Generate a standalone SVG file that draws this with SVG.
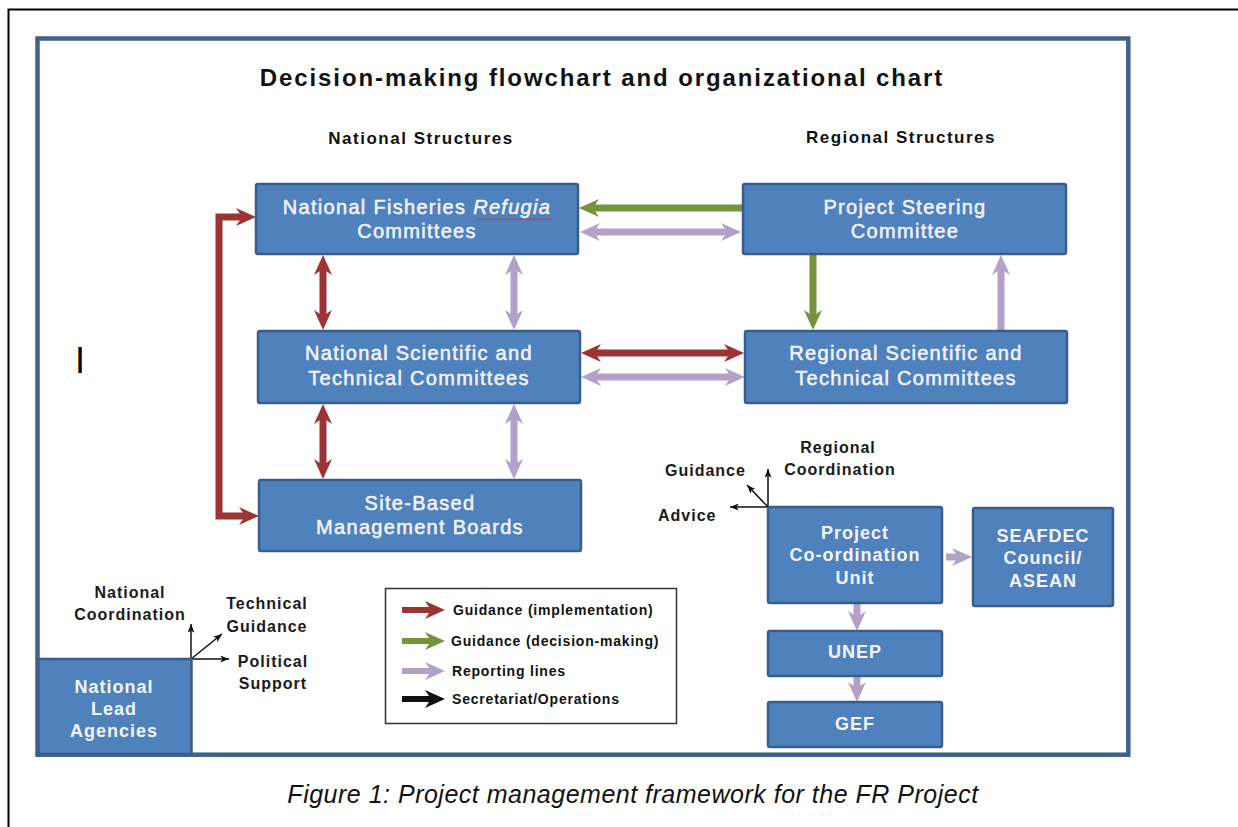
<svg xmlns="http://www.w3.org/2000/svg" width="1238" height="827" viewBox="0 0 1238 827">
<style>
.node rect{fill:#4f81bd;stroke:#385d8a;stroke-width:2.5}
.nt{font-family:"Liberation Sans",Arial,sans-serif;font-size:20px;fill:#f4f4ff;stroke:#f4f4ff;stroke-width:0.5px;text-anchor:middle;letter-spacing:1.3px}
.bt{font-family:"Liberation Sans",Arial,sans-serif;font-size:18px;font-weight:bold;fill:#f4f4ff;text-anchor:middle;letter-spacing:1px}
.hd{font-family:"Liberation Sans",Arial,sans-serif;font-weight:bold;fill:#111;text-anchor:middle}
.lb{font-family:"Liberation Sans",Arial,sans-serif;font-size:16px;font-weight:bold;fill:#1a1a1a;letter-spacing:1px}
.lg{font-family:"Liberation Sans",Arial,sans-serif;font-size:14px;font-weight:bold;fill:#111;letter-spacing:0.8px}
.red{stroke:#9b3535;stroke-width:7;fill:none}
.grn{stroke:#76923c;stroke-width:7;fill:none}
.lav{stroke:#b3a2c7;stroke-width:7;fill:none}
.blk{stroke:#111;stroke-width:6;fill:none}
.thin{stroke:#111;stroke-width:1.5;fill:none;marker-end:url(#ak)}
</style>
<defs>
<marker id="hr" viewBox="0 0 20 20" refX="6" refY="10" markerWidth="20" markerHeight="20" markerUnits="userSpaceOnUse" orient="auto-start-reverse"><path d="M0,1 L20,10 L0,19 L6,10 Z" fill="#9b3535"/></marker>
<marker id="hg" viewBox="0 0 20 20" refX="6" refY="10" markerWidth="20" markerHeight="20" markerUnits="userSpaceOnUse" orient="auto-start-reverse"><path d="M0,1 L20,10 L0,19 L6,10 Z" fill="#76923c"/></marker>
<marker id="hl" viewBox="0 0 20 20" refX="6" refY="10" markerWidth="20" markerHeight="20" markerUnits="userSpaceOnUse" orient="auto-start-reverse"><path d="M0,1 L20,10 L0,19 L6,10 Z" fill="#b3a2c7"/></marker>
<marker id="hk" viewBox="0 0 20 20" refX="6" refY="10" markerWidth="20" markerHeight="20" markerUnits="userSpaceOnUse" orient="auto-start-reverse"><path d="M0,1 L20,10 L0,19 L6,10 Z" fill="#111"/></marker>
<marker id="ak" viewBox="0 0 10 8" refX="10" refY="4" markerWidth="9" markerHeight="7" markerUnits="userSpaceOnUse" orient="auto"><path d="M0,0 L10,4 L0,8 L2.5,4 Z" fill="#111"/></marker>
</defs>
<rect width="1238" height="827" fill="#fff"/>
<path d="M8.5,827 V9.5 H1238" fill="none" stroke="#000" stroke-width="2"/>
<rect x="37.5" y="38.5" width="1090.8" height="716.2" fill="none" stroke="#41618c" stroke-width="4.5"/>
<text x="602" y="86" class="hd" font-size="24" letter-spacing="1.9">Decision-making flowchart and organizational chart</text>
<text x="421" y="144" class="hd" font-size="17" letter-spacing="1.5">National Structures</text>
<text x="901" y="143" class="hd" font-size="17" letter-spacing="1.5">Regional Structures</text>
<text x="75" y="373" font-family="Liberation Sans,Arial,sans-serif" font-size="36" fill="#000">I</text>

<g id="connectors">
<path class="grn" d="M743,208 H593" marker-end="url(#hg)"/>
<path class="lav" d="M594,232 H727" marker-start="url(#hl)" marker-end="url(#hl)"/>
<path class="red" d="M595,353 H730" marker-start="url(#hr)" marker-end="url(#hr)"/>
<path class="lav" d="M595,377 H731" marker-start="url(#hl)" marker-end="url(#hl)"/>
<path class="red" d="M323,269 V316" marker-start="url(#hr)" marker-end="url(#hr)"/>
<path class="lav" d="M514,269 V316" marker-start="url(#hl)" marker-end="url(#hl)"/>
<path class="red" d="M323,418 V465" marker-start="url(#hr)" marker-end="url(#hr)"/>
<path class="lav" d="M514,418 V465" marker-start="url(#hl)" marker-end="url(#hl)"/>
<path class="red" d="M242,217 H219 V516 H245" marker-start="url(#hr)" marker-end="url(#hr)"/>
<path class="grn" d="M813,255 V316" marker-end="url(#hg)"/>
<path class="lav" d="M1001,330 V269" marker-end="url(#hl)"/>
<path class="lav" d="M946,557 H958" marker-end="url(#hl)"/>
<path class="lav" d="M857,604 V617" marker-end="url(#hl)"/>
<path class="lav" d="M857,677 V688" marker-end="url(#hl)"/>
<path class="thin" d="M768,507 V469"/>
<path class="thin" d="M768,507 L747,485"/>
<path class="thin" d="M768,507 H730"/>
<path class="thin" d="M191,659 V624"/>
<path class="thin" d="M191,659 L222,634"/>
<path class="thin" d="M191,659 H229"/>
</g>

<g id="nfrc" class="node"><rect x="256" y="184" width="322" height="70" rx="2"/>
<text x="417" y="214" class="nt">National Fisheries <tspan font-style="italic">Refugia</tspan></text>
<text x="417" y="238" class="nt">Committees</text>
<path d="M477,220 l2,-1.5 l2,1.5 l2,-1.5 l2,1.5 l2,-1.5 l2,1.5 l2,-1.5 l2,1.5 l2,-1.5 l2,1.5 l2,-1.5 l2,1.5 l2,-1.5 l2,1.5 l2,-1.5 l2,1.5 l2,-1.5 l2,1.5 l2,-1.5 l2,1.5 l2,-1.5 l2,1.5 l2,-1.5 l2,1.5 l2,-1.5 l2,1.5 l2,-1.5 l2,1.5 l2,-1.5 l2,1.5 l2,-1.5 l2,1.5 l2,-1.5 l2,1.5 l2,-1.5 l2,1.5 l2,-1.5 l2,1.5" fill="none" stroke="#d63a3a" stroke-width="1"/>
</g>
<g id="psc" class="node"><rect x="743" y="184" width="323" height="70" rx="2"/>
<text x="905" y="214" class="nt">Project Steering</text>
<text x="905" y="238" class="nt">Committee</text></g>
<g id="nstc" class="node"><rect x="258" y="331" width="322" height="72" rx="2"/>
<text x="419" y="360" class="nt">National Scientific and</text>
<text x="419" y="385" class="nt">Technical Committees</text></g>
<g id="rstc" class="node"><rect x="745" y="331" width="322" height="72" rx="2"/>
<text x="906" y="360" class="nt">Regional Scientific and</text>
<text x="906" y="385" class="nt">Technical Committees</text></g>
<g id="sbmb" class="node"><rect x="259" y="480" width="322" height="71" rx="2"/>
<text x="420" y="510" class="nt">Site-Based</text>
<text x="420" y="534" class="nt">Management Boards</text></g>
<g id="pcu" class="node"><rect x="768" y="507" width="174" height="96" rx="2"/>
<text x="855" y="539" class="bt">Project</text>
<text x="855" y="561" class="bt">Co-ordination</text>
<text x="855" y="584" class="bt">Unit</text></g>
<g id="seafdec" class="node"><rect x="973" y="508" width="140" height="98" rx="2"/>
<text x="1043" y="542" class="bt">SEAFDEC</text>
<text x="1043" y="564" class="bt">Council/</text>
<text x="1043" y="587" class="bt">ASEAN</text></g>
<g id="unep" class="node"><rect x="768" y="631" width="174" height="45" rx="2"/>
<text x="855" y="658" class="bt" letter-spacing="2">UNEP</text></g>
<g id="gef" class="node"><rect x="768" y="702" width="174" height="45" rx="2"/>
<text x="855" y="730" class="bt" letter-spacing="1.5">GEF</text></g>
<g id="nla" class="node"><rect x="38.5" y="659" width="153" height="95"/>
<text x="114" y="693" class="bt" letter-spacing="0.8">National</text>
<text x="114" y="715" class="bt" letter-spacing="0.8">Lead</text>
<text x="114" y="737" class="bt" letter-spacing="0.8">Agencies</text></g>

<g id="labels">
<text x="838" y="453" class="lb" text-anchor="middle">Regional</text>
<text x="840" y="475" class="lb" text-anchor="middle">Coordination</text>
<text x="665" y="476" class="lb">Guidance</text>
<text x="658" y="521" class="lb">Advice</text>
<text x="130" y="598" class="lb" text-anchor="middle">National</text>
<text x="130" y="620" class="lb" text-anchor="middle">Coordination</text>
<text x="267" y="609" class="lb" text-anchor="middle">Technical</text>
<text x="267" y="632" class="lb" text-anchor="middle">Guidance</text>
<text x="273" y="667" class="lb" text-anchor="middle">Political</text>
<text x="273" y="689" class="lb" text-anchor="middle">Support</text>
</g>

<g id="legend">
<rect x="385.5" y="588.5" width="291" height="135" fill="#fff" stroke="#333" stroke-width="1.5"/>
<path class="red" style="stroke-width:6" d="M402,610 H431" marker-end="url(#hr)"/>
<path class="grn" style="stroke-width:6" d="M402,641 H431" marker-end="url(#hg)"/>
<path class="lav" style="stroke-width:6" d="M402,671 H431" marker-end="url(#hl)"/>
<path class="blk" d="M402,699 H431" marker-end="url(#hk)"/>
<text x="453" y="615" class="lg">Guidance (implementation)</text>
<text x="451" y="646" class="lg">Guidance (decision-making)</text>
<text x="452" y="676" class="lg">Reporting lines</text>
<text x="452" y="704" class="lg">Secretariat/Operations</text>
</g>

<text x="633" y="803" font-family="Liberation Sans,Arial,sans-serif" font-size="25" font-style="italic" fill="#111" text-anchor="middle" letter-spacing="0.5">Figure 1: Project management framework for the FR Project</text>
</svg>
